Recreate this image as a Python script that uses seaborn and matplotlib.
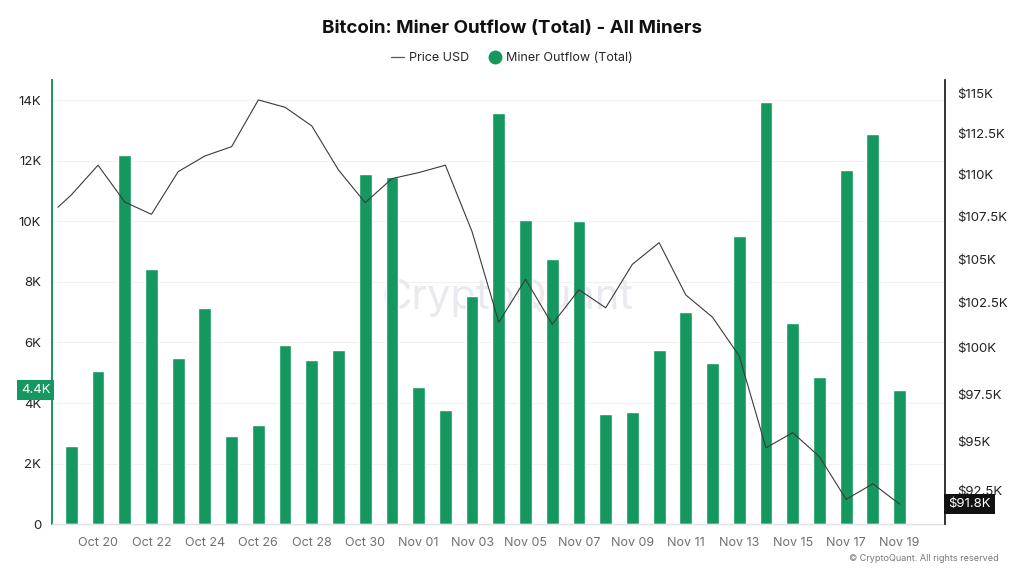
import numpy as np
import pandas as pd
import seaborn as sns
import matplotlib.pyplot as plt
from matplotlib.lines import Line2D
from matplotlib.ticker import FixedLocator, NullLocator
import matplotlib.transforms as mtransforms

# daily values, Oct 19 - Nov 19 2025
days = pd.date_range("2025-10-19", "2025-11-19", freq="D")
outflow = [2580, 5050, 12200, 8420, 5500, 7130, 2900, 3270, 5900, 5410, 5740,
           11550, 11450, 4520, 3760, 7520, 13570, 10040, 8750, 10000, 3630,
           3700, 5740, 7000, 5320, 9510, 13930, 6640, 4850, 11690, 12880, 4420]
# price USD (thousands), first value is where the line enters the chart on the left
price_start = 108.03
price = [108.76, 110.55, 108.34, 107.61, 110.16, 111.11, 111.68, 114.58, 114.12,
         112.96, 110.26, 108.30, 109.74, 110.10, 110.55, 106.59, 101.42, 103.84,
         101.31, 103.25, 102.23, 104.70, 105.95, 102.95, 101.70, 99.56, 94.67,
         95.46, 94.21, 92.03, 92.82, 91.79]
left_ticks = [0, 2000, 4000, 6000, 8000, 10000, 12000, 14000]
right_ticks = [92.5, 95, 97.5, 100, 102.5, 105, 107.5, 110, 112.5, 115]

green = "#14985f"

df = pd.DataFrame({"day": days.strftime("%b %d"), "outflow": outflow})

sns.set_theme(style="white")
plt.rcParams['font.family'] = ['Inter', 'DejaVu Sans']

fig = plt.figure(figsize=(10.24, 5.76), dpi=100)
ax = fig.add_axes([0.0511, 0.0898, 0.8715, 0.7713])

sns.barplot(data=df, x="day", y="outflow", color=green, saturation=1,
            width=0.48, ax=ax, zorder=2)

ax2 = ax.twinx()
price_x = np.r_[-0.5, np.arange(len(price))]
sns.lineplot(x=price_x, y=np.r_[price_start, price], ax=ax2, color="#3a3a3a",
             linewidth=0.8, zorder=3)

# left axis
ax.set_ylim(0, 14660)
ax.set_yticks(left_ticks)
ax.set_yticklabels(["0" if t == 0 else f"{t // 1000}K" for t in left_ticks])
ax.yaxis.grid(True, color="#f1f1f3", linewidth=0.8, zorder=0)
ax.set_axisbelow(True)
ax.tick_params(axis="y", length=0, labelsize=9.5, labelcolor="#222222", pad=8)
ax.set_xlabel("")
ax.set_ylabel("")

# x axis
xt = np.arange(1, len(days), 2)
ax.set_xticks(xt)
ax.set_xticklabels(days[xt].strftime("%b %d"))
ax.tick_params(axis="x", length=4, color="#cccccc", labelsize=9,
               labelcolor="#707070", pad=5)
ax.set_xlim(-0.71, 32.69)

for side in ["top", "right"]:
    ax.spines[side].set_visible(False)
ax.spines["left"].set_color(green)
ax.spines["left"].set_linewidth(1.4)
ax.spines["bottom"].set_color("#e0e0e0")
ax.spines["bottom"].set_linewidth(1.0)

# right axis, log scale
ax2.set_yscale("log")
ax2.set_ylim(90.78, 115.84)
ax2.yaxis.set_major_locator(FixedLocator(right_ticks))
ax2.yaxis.set_minor_locator(NullLocator())
ax2.set_yticklabels([f"${t:g}K" for t in right_ticks])
ax2.tick_params(axis="y", length=0, labelsize=9.5, labelcolor="#222222", pad=9)
ax2.set_ylabel("")
for side in ["top", "left", "bottom"]:
    ax2.spines[side].set_visible(False)
ax2.spines["right"].set_color("#111111")
ax2.spines["right"].set_linewidth(1.2)

# value badges
tl = mtransforms.blended_transform_factory(ax.transAxes, ax.transData)
ax.text(-0.002, outflow[-1], f"{outflow[-1] / 1000:.1f}K", transform=tl,
        ha="right", va="center", color="white", fontsize=9.5, zorder=5,
        bbox=dict(boxstyle="square,pad=0.3", fc=green, ec="none"), clip_on=False)
tr = mtransforms.blended_transform_factory(ax2.transAxes, ax2.transData)
ax2.text(1.004, price[-1], f"${price[-1]:.1f}K", transform=tr,
         ha="left", va="center", color="white", fontsize=9.5, zorder=5,
         bbox=dict(boxstyle="square,pad=0.3", fc="#111111", ec="none"), clip_on=False)

# watermark and credit
ax.text(0.51, 0.51, "CryptoQuant", transform=ax.transAxes, ha="center",
        va="center", fontsize=30, color="#e9e9ef", zorder=1)
fig.text(0.975, 0.031, "© CryptoQuant. All rights reserved", ha="right",
         va="center", fontsize=6.5, color="#777777")

fig.suptitle("Bitcoin: Miner Outflow (Total) - All Miners", x=0.5, y=0.95,
             fontsize=13.5, fontweight="bold", color="#111111", va="center")
handles = [Line2D([], [], color="#555555", linewidth=0.9),
           Line2D([], [], marker="o", linestyle="none", markersize=9,
                  markerfacecolor=green, markeredgecolor=green)]
fig.legend(handles, ["Price USD", "Miner Outflow (Total)"], loc="center",
           bbox_to_anchor=(0.5, 0.899), ncol=2, frameon=False, fontsize=9,
           handlelength=1.0, handletextpad=0.4, columnspacing=1.6)

fig.savefig("out.png", dpi=100)
